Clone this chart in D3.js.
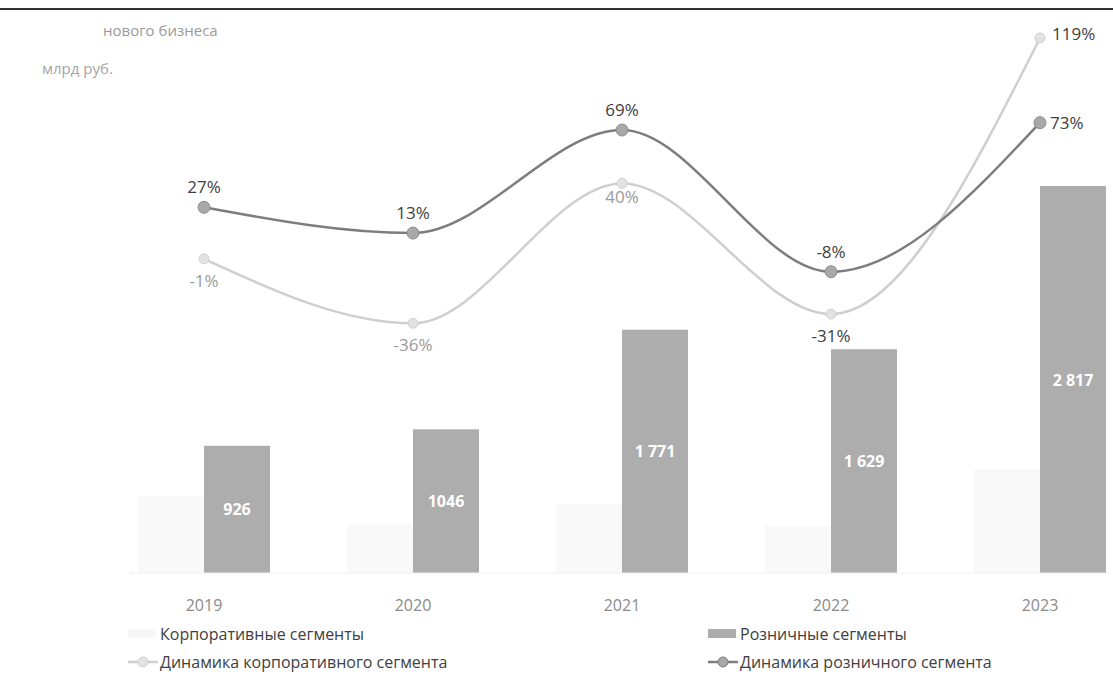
<!DOCTYPE html>
<html>
<head>
<meta charset="utf-8">
<script src="https://cdn.jsdelivr.net/npm/d3@7"></script>
<style>
  body { margin: 0; background: #fff; }
  svg { display: block; font-family: "Open Sans", "Noto Sans", sans-serif; }
</style>
</head>
<body>
<svg id="chart" width="1113" height="685"></svg>
<script>
// data
const years = ["2019", "2020", "2021", "2022", "2023"];
const retail = [926, 1046, 1771, 1629, 2817];
const retailLabels = ["926", "1046", "1 771", "1 629", "2 817"];
const corporate = [560, 358, 502, 346, 758];
const retailGrowth = [27, 13, 69, -8, 73];
const corporateGrowth = [-1, -36, 40, -31, 119];

const svg = d3.select("#chart");

const x = d3.scalePoint().domain(years).range([204, 1040]);
const y = d3.scaleLinear().domain([0, 2817]).range([573, 186]);
const yp = d3.scaleLinear().domain([0, 69]).range([257, 130]);
const barW = 66;

// top rule
svg.append("line")
    .attr("x1", 0).attr("x2", 1113)
    .attr("y1", 9).attr("y2", 9)
    .style("stroke", "#333")
    .style("stroke-width", 2);

// title (faded scan)
svg.append("text")
    .attr("x", 103).attr("y", 36)
    .style("fill", "#9a9a9a")
    .style("font-size", "15px")
    .text("нового бизнеса");
svg.append("text")
    .attr("x", 42).attr("y", 74)
    .style("fill", "#a5a5a5")
    .style("font-size", "15px")
    .text("млрд руб.");

// corporate bars, almost washed out
svg.selectAll(".c-bar")
    .data(corporate)
    .join("rect")
    .classed("c-bar", true)
    .attr("x", (d, i) => x(years[i]) - barW)
    .attr("y", d => y(d))
    .attr("width", barW)
    .attr("height", d => y(0) - y(d))
    .style("fill", "#f9f9f9");

// retail bars
svg.selectAll(".r-bar")
    .data(retail)
    .join("rect")
    .classed("r-bar", true)
    .attr("x", (d, i) => x(years[i]))
    .attr("y", d => y(d))
    .attr("width", barW)
    .attr("height", d => y(0) - y(d))
    .style("fill", "#adadad");

svg.selectAll(".r-val")
    .data(retail)
    .join("text")
    .classed("r-val", true)
    .attr("x", (d, i) => x(years[i]) + barW / 2)
    .attr("y", d => (y(d) + y(0)) / 2 + 6)
    .attr("text-anchor", "middle")
    .style("fill", "#fff")
    .style("font-size", "16px")
    .style("font-weight", "bold")
    .text((d, i) => retailLabels[i]);

// baseline
svg.append("line")
    .attr("x1", 130).attr("x2", 1110)
    .attr("y1", y(0)).attr("y2", y(0))
    .style("stroke", "#efefef");

// year labels
svg.selectAll(".year")
    .data(years)
    .join("text")
    .classed("year", true)
    .attr("x", d => x(d))
    .attr("y", 611)
    .attr("text-anchor", "middle")
    .style("fill", "#8a8a8a")
    .style("font-size", "16px")
    .text(d => d);

// growth lines
const line = d3.line()
    .x((d, i) => x(years[i]))
    .y(d => yp(d))
    .curve(d3.curveMonotoneX);

svg.append("path")
    .attr("d", line(corporateGrowth))
    .style("fill", "none")
    .style("stroke", "#cfcfcf")
    .style("stroke-width", 2.5);

svg.append("path")
    .attr("d", line(retailGrowth))
    .style("fill", "none")
    .style("stroke", "#7d7d7d")
    .style("stroke-width", 2.5);

svg.selectAll(".c-pt")
    .data(corporateGrowth)
    .join("circle")
    .classed("c-pt", true)
    .attr("cx", (d, i) => x(years[i]))
    .attr("cy", d => yp(d))
    .attr("r", 5)
    .style("fill", "#e2e2e2")
    .style("stroke", "#d0d0d0");

svg.selectAll(".r-pt")
    .data(retailGrowth)
    .join("circle")
    .classed("r-pt", true)
    .attr("cx", (d, i) => x(years[i]))
    .attr("cy", d => yp(d))
    .attr("r", 6)
    .style("fill", "#a8a8a8")
    .style("stroke", "#8c8c8c");

// growth labels: retail above, corporate below, last one to the right
const pct = v => v + "%";
svg.selectAll(".r-lab")
    .data(retailGrowth)
    .join("text")
    .classed("r-lab", true)
    .attr("x", (d, i) => i === 4 ? x(years[i]) + 10 : x(years[i]))
    .attr("y", (d, i) => i === 4 ? yp(d) + 6 : yp(d) - 14)
    .attr("text-anchor", (d, i) => i === 4 ? "start" : "middle")
    .style("fill", "#404040")
    .style("font-size", "17px")
    .text(pct);

svg.selectAll(".c-lab")
    .data(corporateGrowth)
    .join("text")
    .classed("c-lab", true)
    .attr("x", (d, i) => i === 4 ? x(years[i]) + 12 : x(years[i]))
    .attr("y", (d, i) => i === 4 ? yp(d) + 2 : i === 2 ? yp(d) + 20 : yp(d) + 28)
    .attr("text-anchor", (d, i) => i === 4 ? "start" : "middle")
    .style("fill", (d, i) => i === 3 || i === 4 ? "#404040" : "#9a9a9a")
    .style("font-size", "17px")
    .text(pct);

// legend
const legend = [
    {label: "Корпоративные сегменты", x: 128, y: 640, kind: "bar", color: "#f7f7f7"},
    {label: "Розничные сегменты", x: 708, y: 640, kind: "bar", color: "#adadad"},
    {label: "Динамика корпоративного сегмента", x: 128, y: 668, kind: "line", color: "#cfcfcf", dot: "#e2e2e2"},
    {label: "Динамика розничного сегмента", x: 708, y: 668, kind: "line", color: "#7d7d7d", dot: "#a8a8a8"}
];

const lg = svg.selectAll(".legend")
    .data(legend)
    .join("g")
    .classed("legend", true)
    .attr("transform", d => `translate(${d.x},${d.y})`);

lg.filter(d => d.kind === "bar")
    .append("rect")
    .attr("x", 0).attr("y", -11)
    .attr("width", 28).attr("height", 9)
    .style("fill", d => d.color);

lg.filter(d => d.kind === "line")
    .call(g => {
        g.append("line")
            .attr("x1", 0).attr("x2", 30)
            .attr("y1", -6).attr("y2", -6)
            .style("stroke", d => d.color)
            .style("stroke-width", 2.5);
        g.append("circle")
            .attr("cx", 15).attr("cy", -6).attr("r", 5)
            .style("fill", d => d.dot)
            .style("stroke", d => d.color);
    });

lg.append("text")
    .attr("x", 32)
    .attr("y", 0)
    .style("fill", "#404040")
    .style("font-size", "16px")
    .text(d => d.label);
</script>
</body>
</html>
